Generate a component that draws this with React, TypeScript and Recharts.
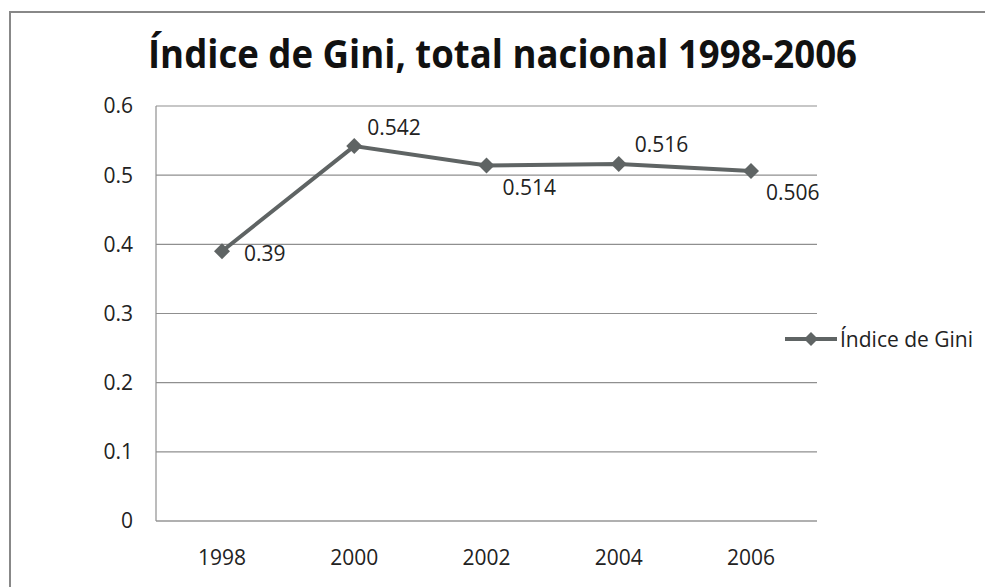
import { LineChart, Line, XAxis, YAxis, CartesianGrid, Legend, LabelList } from 'recharts';

const years = ['1998', '2000', '2002', '2004', '2006'];
const gini = [0.39, 0.542, 0.514, 0.516, 0.506];
const yTicks = [0, 0.1, 0.2, 0.3, 0.4, 0.5, 0.6];

const data = years.map((year, i) => ({ year, gini: gini[i] }));

// where each value label sits relative to its point
const labelOffsets = [
  { dx: 22, dy: 2 },
  { dx: 13, dy: -18 },
  { dx: 16, dy: 22 },
  { dx: 16, dy: -19 },
  { dx: 15, dy: 22 }
];

const LINE = '#5f6464';
const GRID = '#8f8f8f';
const FONT = '"Open Sans", sans-serif';

const Diamond = ({ cx, cy, r = 8 }: { cx: number; cy: number; r?: number }) => (
  <polygon
    points={`${cx},${cy - r} ${cx + r},${cy} ${cx},${cy + r} ${cx - r},${cy}`}
    fill={LINE}
  />
);

const renderLabel = (props: any) => {
  const { x, y, value, index } = props;
  const off = labelOffsets[index] || { dx: 15, dy: 0 };
  return (
    <text
      x={x + off.dx}
      y={y + off.dy}
      dy="0.35em"
      fontSize={21}
      fontFamily={FONT}
      fill="#222"
      textAnchor="start"
    >
      {value}
    </text>
  );
};

const renderLegend = () => (
  <div style={{ display: 'flex', alignItems: 'center', fontFamily: FONT, fontSize: 21, color: '#222' }}>
    <svg width={52} height={20} style={{ marginRight: 3 }}>
      <line x1={0} y1={10} x2={52} y2={10} stroke={LINE} strokeWidth={4} />
      <Diamond cx={26} cy={10} r={7} />
    </svg>
    <span>Índice de Gini</span>
  </div>
);

export default function App() {
  return (
    <div style={{ position: 'absolute', left: 0, top: 0, width: 985, height: 587, overflow: 'hidden', background: '#fff' }}>
      <div
        style={{
          position: 'absolute',
          left: 9,
          top: 11,
          width: 1000,
          height: 600,
          borderLeft: '2px solid #888',
          borderTop: '2px solid #888'
        }}
      />
      <svg width={985} height={90} style={{ position: 'absolute', left: 0, top: 0 }}>
        <text
          x={148}
          y={68}
          textLength={709}
          lengthAdjust="spacingAndGlyphs"
          fontFamily={FONT}
          fontWeight="bold"
          fontSize={39}
          fill="#111"
        >
          Índice de Gini, total nacional 1998-2006
        </text>
      </svg>
      <div style={{ position: 'absolute', left: 0, top: 0 }}>
        <LineChart width={985} height={587} data={data} margin={{ top: 106, right: 168, left: 96, bottom: 6 }}>
          <CartesianGrid vertical={false} stroke={GRID} strokeWidth={1.2} />
          <XAxis
            dataKey="year"
            height={60}
            padding={{ left: 66, right: 66 }}
            tickLine={false}
            tickSize={0}
            tickMargin={29}
            axisLine={{ stroke: '#b0b0b0', strokeWidth: 2 }}
            tick={{ fill: '#222', fontSize: 21, fontFamily: FONT }}
          />
          <YAxis
            width={60}
            domain={[0, 0.6]}
            ticks={yTicks}
            tickLine={false}
            tickSize={0}
            tickMargin={23}
            axisLine={{ stroke: GRID, strokeWidth: 1.2 }}
            tick={{ fill: '#222', fontSize: 21, fontFamily: FONT }}
          />
          <Legend
            layout="horizontal"
            align="center"
            verticalAlign="middle"
            content={renderLegend}
            wrapperStyle={{ left: 785, top: 325, width: 200 }}
          />
          <Line
            type="linear"
            dataKey="gini"
            name="Índice de Gini"
            stroke={LINE}
            strokeWidth={4}
            isAnimationActive={false}
            dot={(p: any) => <Diamond key={`d-${p.index}`} cx={p.cx} cy={p.cy} />}
            activeDot={false}
          >
            <LabelList dataKey="gini" content={renderLabel} />
          </Line>
        </LineChart>
      </div>
    </div>
  );
}
